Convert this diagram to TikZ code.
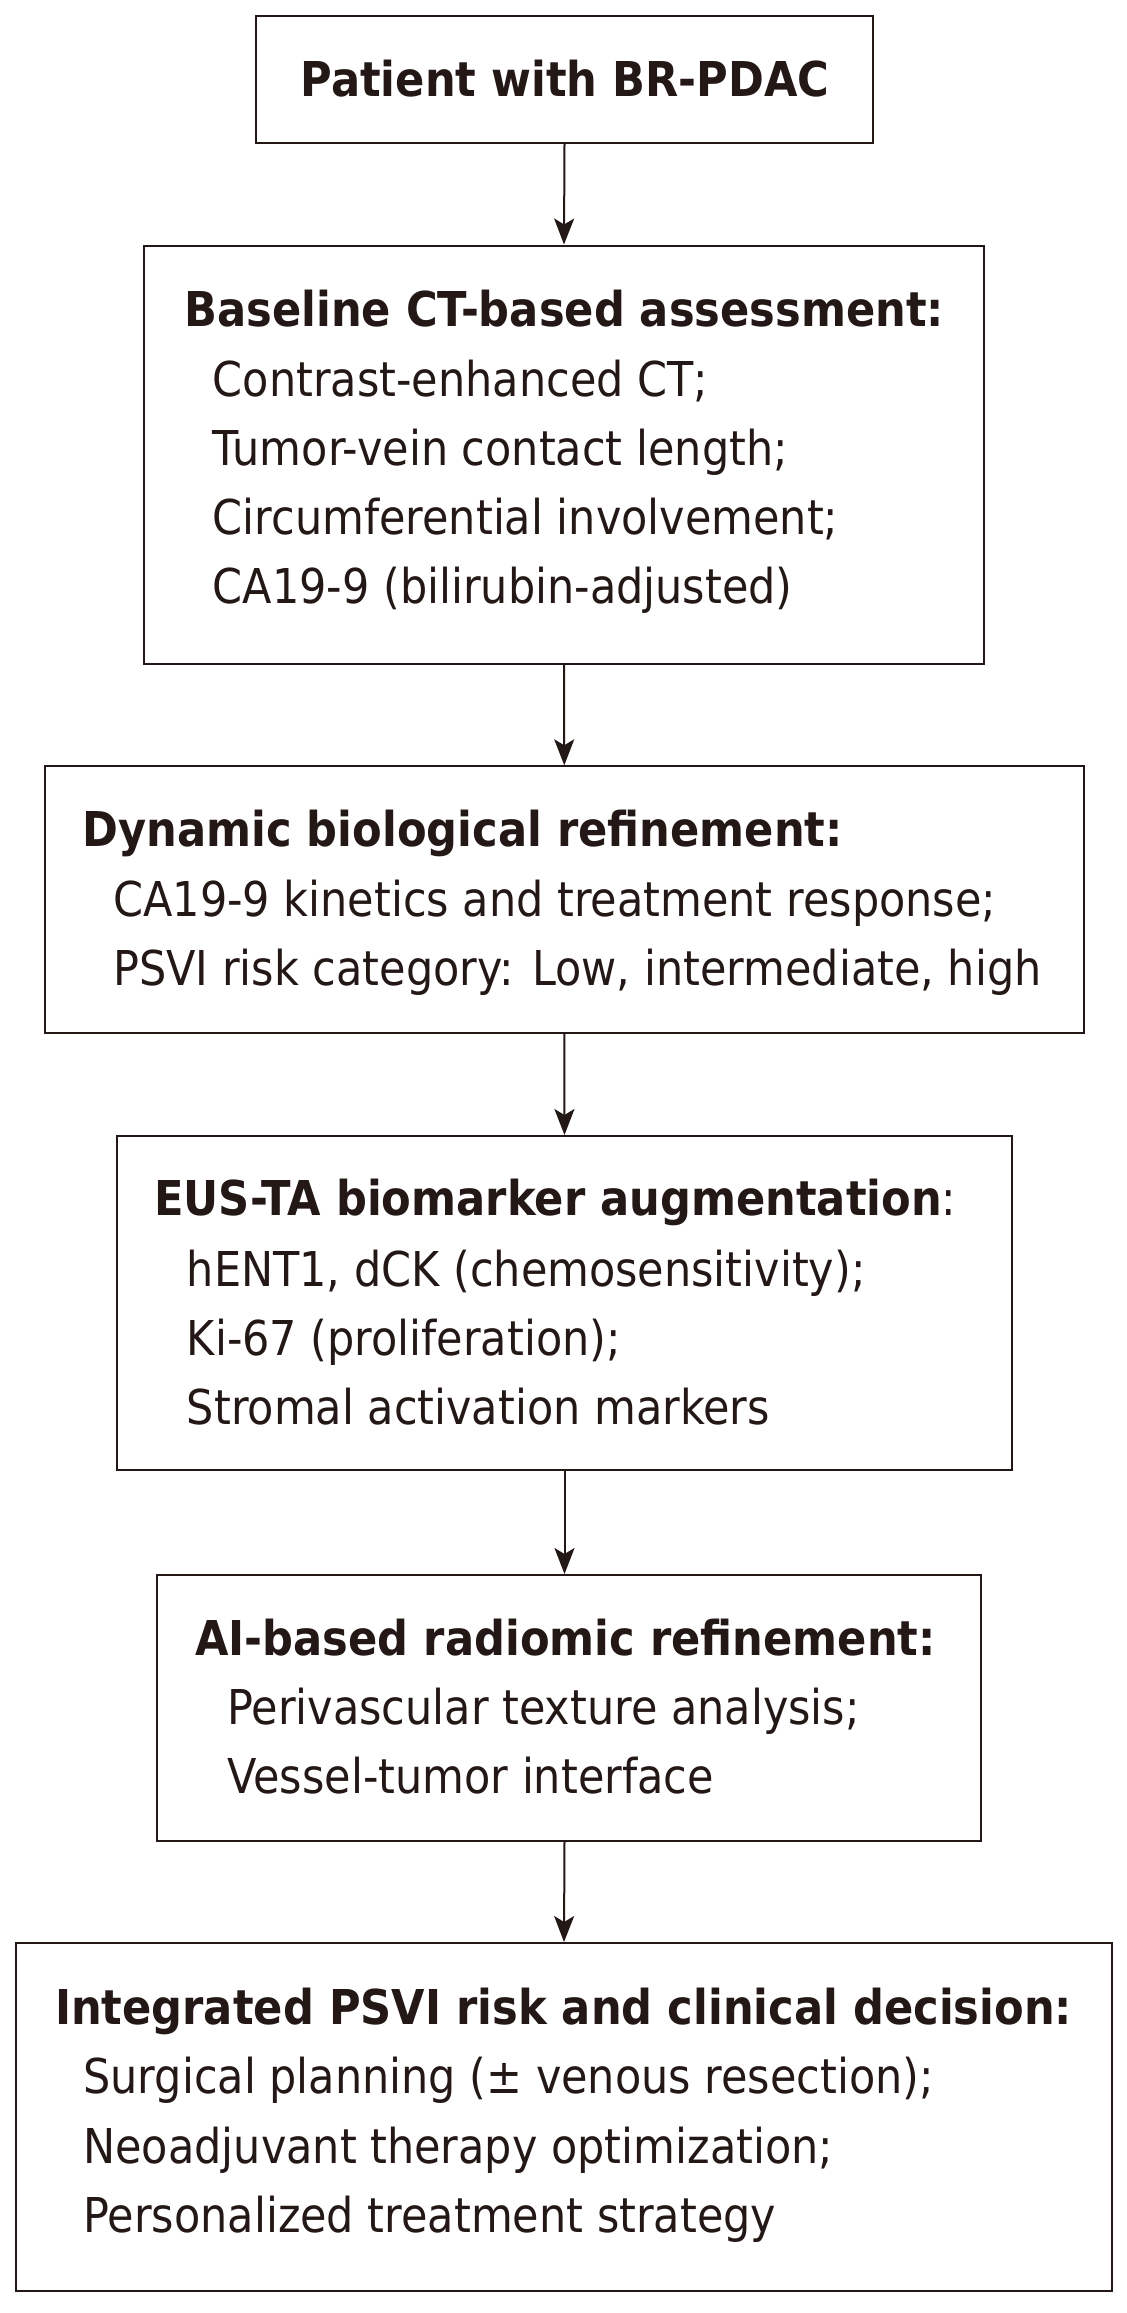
\documentclass[tikz,border=0pt]{standalone}
\usepackage{fontspec}
\setmainfont{DejaVu Sans}[FakeStretch=0.895,BoldFeatures={FakeStretch=0.90}]
\usetikzlibrary{arrows.meta}
\definecolor{ink}{RGB}{35,24,21}
\begin{document}
\begin{tikzpicture}[x=0.5pt,y=-0.5pt,
  box/.style={draw=ink,line width=1pt,rectangle,inner sep=0pt},
  txt/.style={anchor=base west,inner sep=0pt,text=ink,font=\fontsize{24pt}{34.5pt}\selectfont},
  ttl/.style={txt,font=\fontsize{24pt}{34.5pt}\selectfont\bfseries},
  arr/.style={draw=ink,line width=1pt,-{Stealth[length=13pt,width=10pt,inset=3pt]}}]
\useasboundingbox[fill=white] (0,0) rectangle (1126,2313);
% boxes
\node[box,minimum width=308.85pt,minimum height=63.65pt] (p) at (564.5,79.25) {};
\node[box,minimum width=420pt,minimum height=209.25pt] (b) at (564,454.75) {};
\node[box,minimum width=519.7pt,minimum height=133.2pt] (d) at (564.3,899.5) {};
\node[box,minimum width=447.05pt,minimum height=167pt] (e) at (564.5,1303) {};
\node[box,minimum width=412pt,minimum height=132.8pt] (a) at (569,1707.8) {};
\node[box,minimum width=548.1pt,minimum height=173.75pt] (i) at (564,2116.75) {};
% texts
\node[ttl,anchor=base] (pt) at (565,96) {Patient with BR-PDAC};
\node[ttl] (bt) at (184,326) {Baseline CT-based assessment:};
\node[txt] (b1) at (212.5,396) {Contrast-enhanced CT;};
\node[txt] (b2) at (212.5,465) {Tumor-vein contact length;};
\node[txt] (b3) at (212.5,534) {Circumferential involvement;};
\node[txt] (b4) at (212.5,603) {CA19-9 (bilirubin-adjusted)};
\node[ttl] (dt) at (82,846.4) {Dynamic biological refinement:};
\node[txt] (d1) at (113,916.8) {CA19-9 kinetics and treatment response;};
\node[txt] (d2) at (113,985.7) {PSVI risk category: Low, intermediate, high};
\node[txt] (et) at (154,1215) {\bfseries EUS-TA biomarker augmentation\mdseries:};
\node[txt] (e1) at (186.5,1286.7) {hENT1, dCK (chemosensitivity);};
\node[txt] (e2) at (186.5,1355.6) {Ki-67 (proliferation);};
\node[txt] (e3) at (186.5,1424.5) {Stromal activation markers};
\node[ttl] (at) at (195,1655.5) {AI-based radiomic refinement:};
\node[txt] (a1) at (227,1724.5) {Perivascular texture analysis;};
\node[txt] (a2) at (227,1793.5) {Vessel-tumor interface};
\node[ttl] (it) at (54.6,2024.6) {Integrated PSVI risk and clinical decision:};
\node[txt] (i1) at (83,2093.6) {Surgical planning (± venous resection);};
\node[txt] (i2) at (83,2163) {Neoadjuvant therapy optimization;};
\node[txt] (i3) at (83,2232.5) {Personalized treatment strategy};
% arrows
\draw[arr] (p.south) -- (b.north);
\draw[arr] (b.south) -- (d.north);
\draw[arr] (d.south) -- (e.north);
\draw[arr] (e.south) -- (e.south |- a.north);
\draw[arr] (a.south -| e.south) -- (i.north);
\end{tikzpicture}
\end{document}
